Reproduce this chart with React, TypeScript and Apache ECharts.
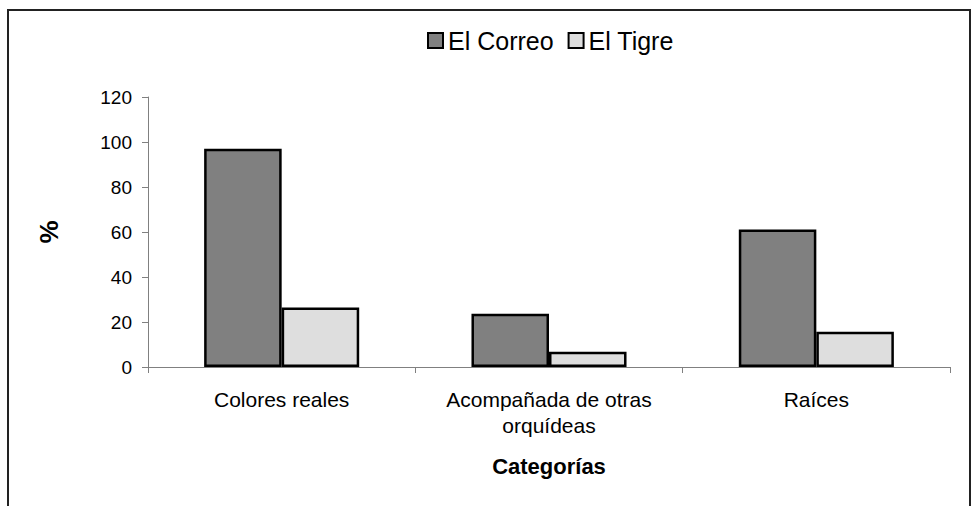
import React, { useEffect, useRef } from "react";
import * as echarts from "echarts";

const categories = ["Colores reales", "Acompañada de otras\norquídeas", "Raíces"];
const elCorreo = [97, 23.7, 61.1];
const elTigre = [26.5, 6.8, 15.7];
const seriesNames = ["El Correo", "El Tigre"];
const yTicks = { min: 0, max: 120, interval: 20 };

const FONT = "'Liberation Sans', Arial, sans-serif";

export default function App() {
  const ref = useRef<HTMLDivElement>(null);
  useEffect(() => {
    document.body.style.margin = "0";
    const chart = echarts.init(ref.current!, null, { renderer: "svg" });
    chart.setOption({
      animation: false,
      backgroundColor: "#ffffff",
      textStyle: { fontFamily: FONT, color: "#000" },
      graphic: [
        {
          type: "rect",
          shape: { x: 8, y: 10, width: 962, height: 520 },
          style: { fill: "none", stroke: "#222", lineWidth: 2 },
          silent: true,
        },
      ],
      legend: {
        top: 23,
        left: 422,
        itemWidth: 15,
        itemHeight: 15,
        itemGap: 14,
        icon: "rect",
        data: seriesNames,
        textStyle: { fontSize: 25, fontFamily: FONT, color: "#000" },
      },
      grid: { left: 148, right: 22, top: 97, bottom: 139, containLabel: false },
      xAxis: {
        type: "category",
        data: categories,
        name: "Categorías",
        nameLocation: "middle",
        nameGap: 88,
        nameTextStyle: { fontSize: 22, fontWeight: "bold", fontFamily: FONT, color: "#000" },
        axisLine: { show: true, lineStyle: { color: "#808080", width: 1 } },
        axisTick: { show: true, alignWithLabel: false, length: 6, lineStyle: { color: "#808080" } },
        axisLabel: { fontSize: 21, fontFamily: FONT, color: "#000", margin: 19, lineHeight: 26, interval: 0 },
      },
      yAxis: {
        type: "value",
        min: yTicks.min,
        max: yTicks.max,
        interval: yTicks.interval,
        name: "%",
        nameLocation: "middle",
        nameGap: 86,
        nameRotate: 90,
        nameTextStyle: { fontSize: 26, fontWeight: "bold", fontFamily: FONT, color: "#000" },
        splitLine: { show: false },
        axisLine: { show: true, lineStyle: { color: "#808080", width: 1 } },
        axisTick: { show: true, length: 6, lineStyle: { color: "#808080" } },
        axisLabel: { fontSize: 19, fontFamily: FONT, color: "#000", margin: 16 },
      },
      series: [
        {
          name: seriesNames[0],
          type: "bar",
          data: elCorreo,
          barGap: "0%",
          barCategoryGap: "42%",
          itemStyle: { color: "#808080", borderColor: "#000", borderWidth: 2.5 },
        },
        {
          name: seriesNames[1],
          type: "bar",
          data: elTigre,
          itemStyle: { color: "#dedede", borderColor: "#000", borderWidth: 2.5 },
        },
      ],
    });
    return () => chart.dispose();
  }, []);
  return <div ref={ref} style={{ width: 972, height: 506 }} />;
}
